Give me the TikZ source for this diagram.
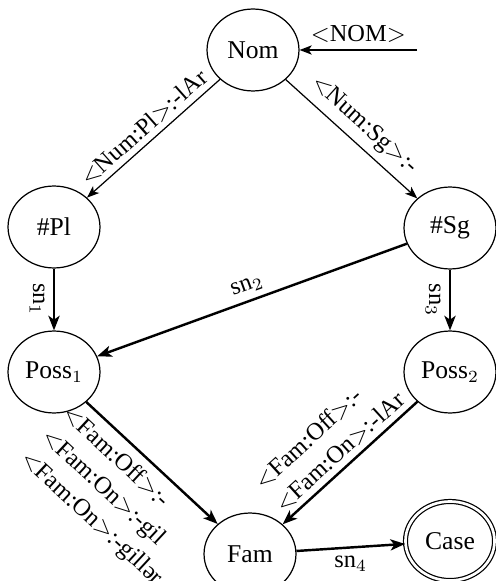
\documentclass[tikz,border=0pt]{standalone}
\usepackage{fontspec}
\setmainfont{Liberation Serif}
\usetikzlibrary{arrows.meta,shapes.geometric,calc}
\begin{document}
\begin{tikzpicture}[x=0.41pt,y=-0.41pt,
  font=\fontsize{10}{12.6}\selectfont,
  state/.style={ellipse,draw,line width=0.5pt,inner sep=0pt,
    font=\fontsize{10.5}{12.8}\selectfont,
    minimum width=37.7pt,minimum height=33.6pt},
  final/.style={state,double,double distance=1.1pt,
    minimum width=36.5pt,minimum height=32.4pt},
  thinarrow/.style={line width=0.5pt,-{Stealth[length=5pt,width=3.8pt,inset=1.3pt]}},
  thickarrow/.style={line width=1pt,-{Stealth[length=6pt,width=4.6pt,inset=1.6pt]}},
  lbl/.style={inner sep=2.2pt,align=left}
]
\useasboundingbox (0,0) rectangle (496,581);

% states
\node[state] (nom)  at (253,50)  {Nom};
\node[state] (pl)   at (54,227)  {\#Pl};
\node[state] (sg)   at (450,228) {\#Sg};
\node[state] (p1)   at (54,372)  {Poss$_1$};
\node[state] (p2)   at (450,372) {Poss$_2$};
\node[state] (fam)  at (250,554) {Fam};
\node[final] (case) at (450,541) {Case};
\coordinate (in) at (417,50);

% entry arc
\draw[thinarrow] (in) -- node[lbl,above,inner sep=3pt] {$<$NOM$>$} (nom);

% number
\draw[thinarrow] (nom) -- node[lbl,sloped,above] {$<$Num:Pl$>$:-lAr} (pl);
\draw[thinarrow] (nom) -- node[lbl,sloped,above,inner sep=3pt] {$<$Num:Sg$>$:-} (sg);

% possessive
\draw[thickarrow] (pl) -- node[midway,anchor=north,rotate=-90] {sn$_1$} (p1);
\draw[thickarrow] (sg) -- node[lbl,sloped,above] {sn$_2$} (p1);
\draw[thickarrow] (sg) -- node[midway,anchor=north,rotate=-90] {sn$_3$} (p2);

% family
\draw[thickarrow] (p1) -- node[lbl,sloped,below,pos=0.465,inner sep=3.4pt]
  {$<$Fam:Off$>$:-\\$<$Fam:On$>$:-gil\\$<$Fam:On$>$:-gillər} (fam);
\draw[thickarrow] (p2) -- node[lbl,sloped,above]
  {$<$Fam:Off$>$:-\\$<$Fam:On$>$:-lAr} (fam);

% case
\draw[thickarrow] (fam) -- node[lbl,below,inner sep=3pt] {sn$_4$} (case);
\end{tikzpicture}
\end{document}
